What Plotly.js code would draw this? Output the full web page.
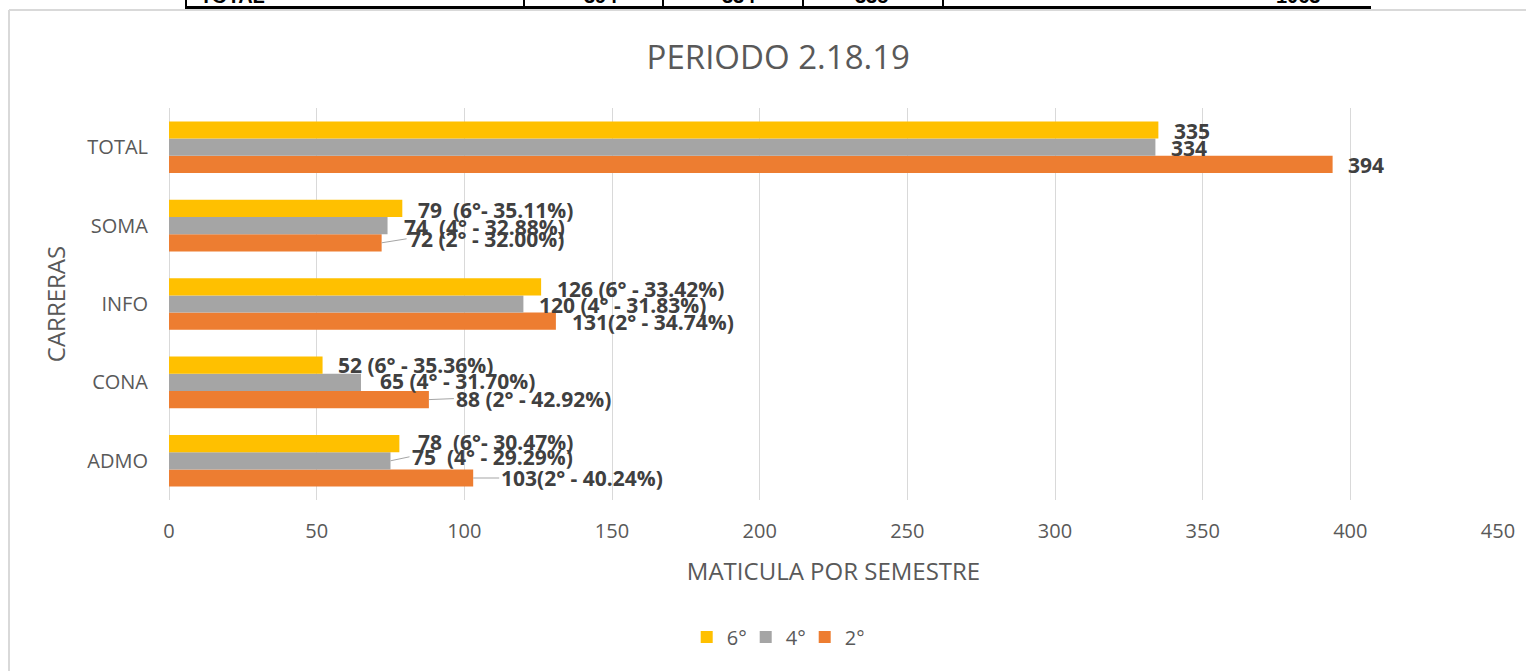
<!DOCTYPE html>
<html>
<head>
<meta charset="utf-8">
<script src="https://cdn.plot.ly/plotly-3.0.1.min.js"></script>
<style>
  html, body { margin: 0; padding: 0; background: #ffffff; overflow: hidden; }
  #wrap { position: relative; width: 1526px; height: 671px; overflow: hidden; }
  #chart { position: absolute; left: 0; top: 0; width: 1526px; height: 671px; }
  #tbl { position: absolute; left: 0; top: 0; width: 1526px; height: 9px; overflow: hidden; pointer-events: none; }
  #tbl .hl { position: absolute; left: 185px; top: 6px; width: 1186px; height: 3px; background: #000; }
  #tbl .vl { position: absolute; top: 0; width: 2px; height: 8px; background: #000; }
  #tbl .tx { position: absolute; top: -14px; font: bold 20px "Liberation Sans", Arial, sans-serif;
             line-height: 20px; color: #000; white-space: nowrap; }
</style>
</head>
<body>
<div id="wrap">
  <div id="chart"></div>
  <div id="tbl"></div>
</div>
<script>
// ---------------- data ----------------
const categories = ['ADMO', 'CONA', 'INFO', 'SOMA', 'TOTAL'];
const seriesNames = ['2°', '4°', '6°'];
const sem2 = [103, 88, 131, 72, 394];
const sem4 = [75, 65, 120, 74, 334];
const sem6 = [78, 52, 126, 79, 335];
const labels2 = ['103(2° - 40.24%)', '88 (2° - 42.92%)', '131(2° - 34.74%)', '72 (2° - 32.00%)', '394'];
const labels4 = ['75 \u00a0(4° - 29.29%)', '65 (4° - 31.70%)', '120 (4° - 31.83%)', '74 \u00a0(4° - 32.88%)', '334'];
const labels6 = ['78 \u00a0(6°- 30.47%)', '52 (6° - 35.36%)', '126 (6° - 33.42%)', '79 \u00a0(6°- 35.11%)', '335'];
const tableRowLabel = 'TOTAL';
const tableRowValues = ['394', '334', '335'];
const tableRowTotal = '1063';

// ---------------- style ----------------
const W = 1526, H = 671;
const M = { l: 169, r: 28, t: 108, b: 171 };
const colors = ['#ED7D31', '#A5A5A5', '#FFC000'];
const bargap = 0.342;
// label nudges per series & category: [dx px from bar end, dy px (down), leader line]
const nudges = [
  [[29, 0, true], [28, -1, true], [17, 1, false], [28, -4, true], [16, 1, false]],
  [[22, -4, true], [20, -1, false], [17, 1, false], [17, 1, false], [17, 1, false]],
  [[20, -2, false], [16, 0, false], [17, 2, false], [17, 2, false], [17, 1, false]]
];

const values = [sem2, sem4, sem6];
const labels = [labels2, labels4, labels6];

const traces = values.map((v, s) => ({
  type: 'bar',
  orientation: 'h',
  name: seriesNames[s],
  y: categories,
  x: v,
  marker: { color: colors[s] },
  hoverinfo: 'skip'
}));

const groupW = (1 - bargap) / 3;
const annotations = [];
values.forEach((v, s) => {
  v.forEach((val, i) => {
    const [dx, dy, leader] = nudges[s][i];
    const yPos = i + (s - 1) * groupW;
    const base = {
      x: val, y: yPos, xref: 'x', yref: 'y',
      text: labels[s][i],
      xanchor: 'left', yanchor: 'middle',
      font: { family: 'Open Sans, sans-serif', size: 21, color: '#404040', weight: 700 }
    };
    if (leader) {
      annotations.push(Object.assign(base, {
        showarrow: true, ax: dx - 3, ay: dy, axref: 'pixel', ayref: 'pixel',
        arrowhead: 0, arrowwidth: 1, arrowcolor: '#A5A5A5', standoff: 0
      }));
    } else {
      annotations.push(Object.assign(base, {
        showarrow: false, xshift: dx - 3, yshift: -dy
      }));
    }
  });
});

// chart frame (left + top edge visible) in paper units
const pw = W - M.l - M.r, ph = H - M.t - M.b;
const px2x = p => (p - M.l) / pw;
const py2y = p => (H - M.b - p) / ph;
const frameShapes = [
  { type: 'line', xref: 'paper', yref: 'paper', x0: px2x(9), x1: px2x(W + 5), y0: py2y(10), y1: py2y(10),
    line: { color: '#D9D9D9', width: 2 } },
  { type: 'line', xref: 'paper', yref: 'paper', x0: px2x(9), x1: px2x(9), y0: py2y(10), y1: py2y(H + 5),
    line: { color: '#D9D9D9', width: 2 } }
];

const layout = {
  width: W, height: H,
  margin: M,
  paper_bgcolor: '#ffffff',
  plot_bgcolor: '#ffffff',
  font: { family: 'Open Sans, sans-serif', color: '#595959' },
  title: {
    text: 'PERIODO 2.18.19',
    font: { family: 'Open Sans, sans-serif', size: 33, color: '#595959' },
    xref: 'container', x: 0.51, xanchor: 'center',
    yref: 'container', y: 1 - 57 / H, yanchor: 'middle'
  },
  barmode: 'group',
  bargap: bargap,
  bargroupgap: 0,
  xaxis: {
    range: [0, 450], dtick: 50, tick0: 0,
    showgrid: true, gridcolor: '#D9D9D9', gridwidth: 1,
    zeroline: true, zerolinecolor: '#D9D9D9', zerolinewidth: 1,
    showline: false, ticks: '', ticklabelstandoff: 17,
    tickfont: { size: 20, color: '#595959' },
    title: { text: 'MATICULA POR SEMESTRE', font: { size: 24, color: '#595959' }, standoff: 20 },
    fixedrange: true
  },
  yaxis: {
    type: 'category', categoryorder: 'array', categoryarray: categories,
    showgrid: false, zeroline: false, showline: false,
    ticks: '', ticklabelstandoff: 20,
    tickfont: { size: 20, color: '#595959' },
    title: { text: 'CARRERAS', font: { size: 24, color: '#595959' }, standoff: 14 },
    fixedrange: true
  },
  legend: {
    orientation: 'h', traceorder: 'reversed',
    xref: 'container', x: 0.508, xanchor: 'center',
    yref: 'container', y: 1 - 637 / H, yanchor: 'middle',
    entrywidth: 14, entrywidthmode: 'pixels',
    font: { size: 20, color: '#595959' }
  },
  shapes: frameShapes,
  annotations: annotations,
  showlegend: true
};

Plotly.newPlot('chart', traces, layout, { displayModeBar: false, staticPlot: true });

// cropped table fragment at the top of the page
const tbl = document.getElementById('tbl');
tbl.innerHTML = '<div class="hl"></div>';
[185, 523, 662, 802, 942].forEach(x => {
  const d = document.createElement('div'); d.className = 'vl'; d.style.left = x + 'px'; tbl.appendChild(d);
});
const addTx = (t, x) => { const s = document.createElement('span'); s.className = 'tx'; s.textContent = t; s.style.left = x + 'px'; tbl.appendChild(s); };
addTx(tableRowLabel, 200);
[584, 722, 855].forEach((x, i) => addTx(tableRowValues[i], x));
addTx(tableRowTotal, 1276);
</script>
</body>
</html>
